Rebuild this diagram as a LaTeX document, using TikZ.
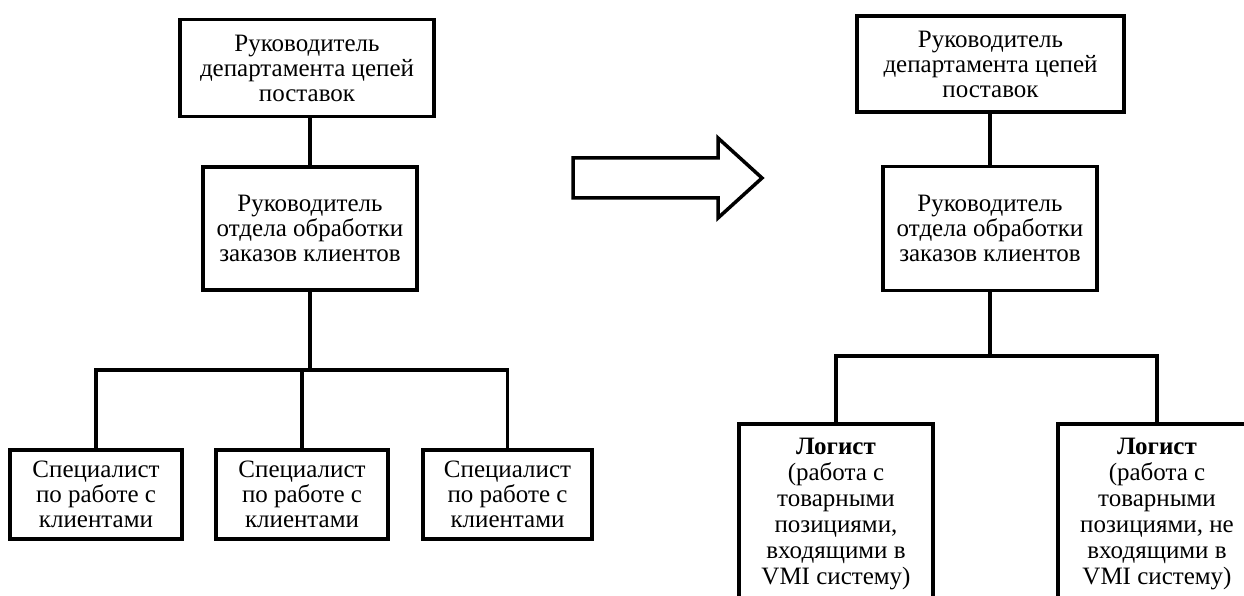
\documentclass[tikz,border=0pt]{standalone}
\usepackage{fontspec}
\setmainfont{Liberation Serif}
\begin{document}
\begin{tikzpicture}[x=1pt,y=-1pt,
  box/.style={draw=black, line width=3.5pt, align=center, inner sep=0pt,
    font=\fontsize{25}{25}\selectfont},
  txt/.style={align=center, inner sep=0pt, font=\fontsize{25}{26}\selectfont},
  link/.style={draw=black, line width=3.5pt}]
\useasboundingbox (0,0) rectangle (1244,596);
\clip (0,0) rectangle (1244,596);

% ---- current structure (left) ----
\node[box, minimum width=254pt, minimum height=97pt] (hA) at (307,68)
  {Руководитель\\департамента цепей\\поставок};
\node[box, minimum width=214pt, minimum height=123pt] (mA) at (310,228.5)
  {Руководитель\\отдела обработки\\заказов клиентов};
\node[box, minimum width=172pt, minimum height=89pt] (s1) at (96,494.5)
  {Специалист\\по работе с\\клиентами};
\node[box, minimum width=172pt, minimum height=89pt] (s2) at (302,494.5)
  {Специалист\\по работе с\\клиентами};
\node[box, minimum width=169pt, minimum height=89pt] (s3) at (507.5,494.5)
  {Специалист\\по работе с\\клиентами};
\coordinate (jA) at (310,370);

\draw[link] (mA.north) -- (mA.north |- hA.south);
\draw[link] (mA.south) -- (jA);
\draw[link] (s1.north) -- (s1.north |- jA) -- (s3.north |- jA) -- (s3.north);
\draw[link] (s2.north) -- (s2.north |- jA);

% ---- transition arrow ----
\draw[line width=3.5pt, line join=miter, fill=white]
  (573,158) -- (718,158) -- (718,138) -- (762,178) -- (718,218)
  -- (718,198) -- (573,198) -- cycle;

% ---- proposed structure (right) ----
\node[box, minimum width=267pt, minimum height=96pt] (hB) at (990.5,64)
  {Руководитель\\департамента цепей\\поставок};
\node[box, minimum width=214pt, minimum height=124pt] (mB) at (990,228.5)
  {Руководитель\\отдела обработки\\заказов клиентов};
\node[box, minimum width=194pt, minimum height=220pt, anchor=north] (g1) at (836,422) {};
\node[box, minimum width=198pt, minimum height=220pt, anchor=north] (g2) at (1157,422) {};
\node[txt, anchor=north] (g1t) at ([yshift=-16pt]g1.north)
  {\textbf{Логист}\\(работа с\\товарными\\позициями,\\входящими в\\VMI систему)};
\node[txt, anchor=north] (g2t) at ([yshift=-16pt]g2.north)
  {\textbf{Логист}\\(работа с\\товарными\\позициями, не\\входящими в\\VMI систему)};
\coordinate (jB) at (990,356);

\draw[link] (mB.north) -- (mB.north |- hB.south);
\draw[link] (mB.south) -- (jB);
\draw[link] (g1.north) -- (g1.north |- jB) -- (g2.north |- jB) -- (g2.north);
\end{tikzpicture}
\end{document}
